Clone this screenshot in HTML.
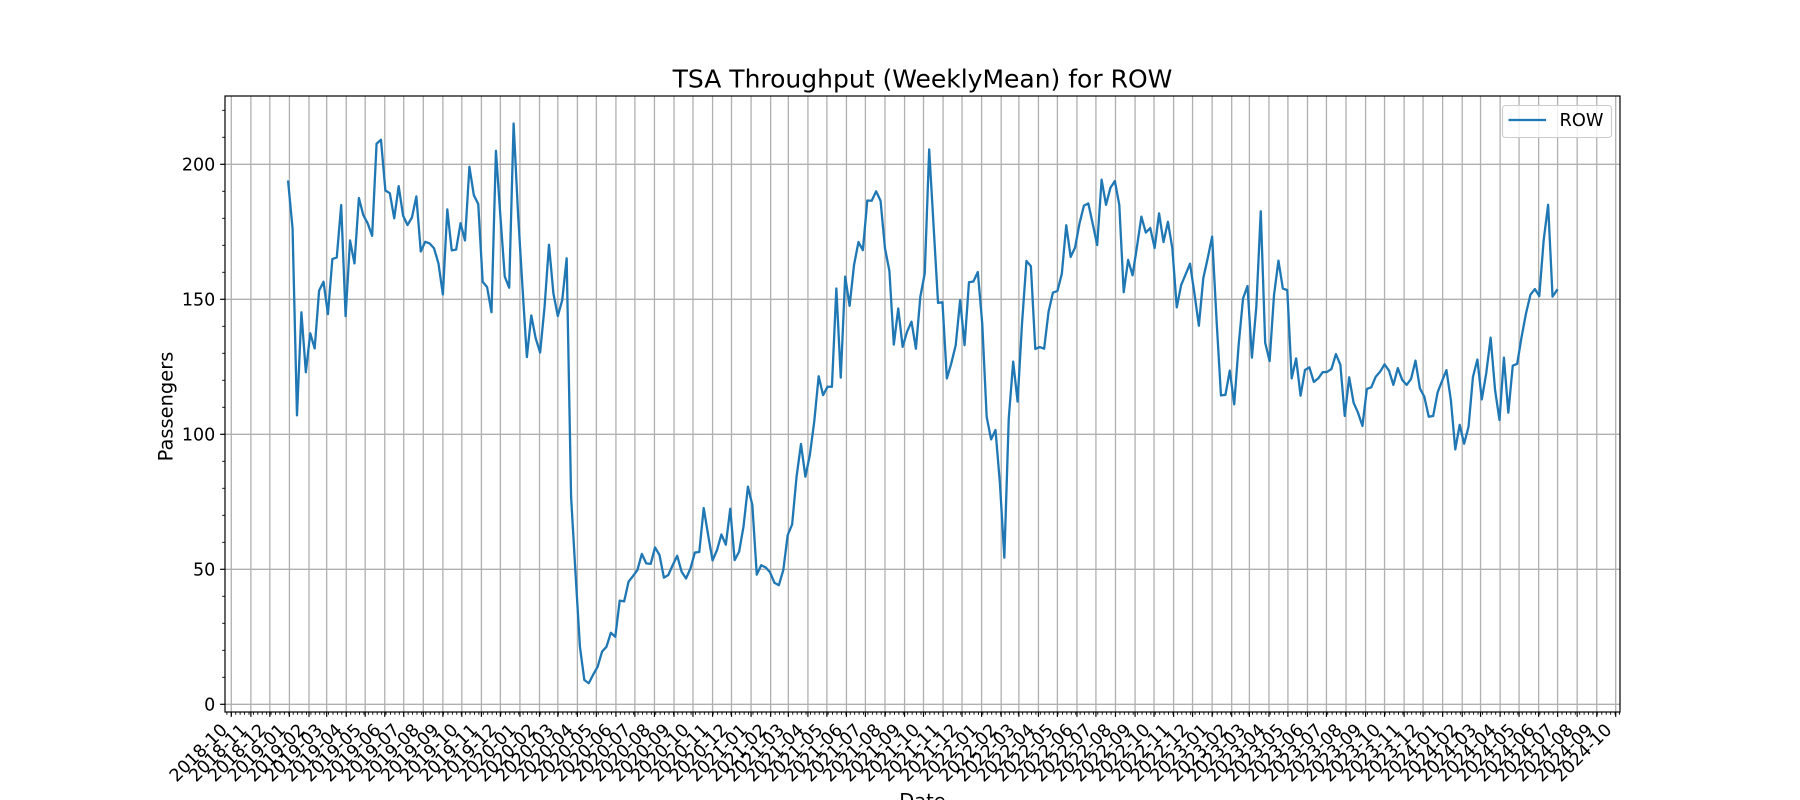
<!DOCTYPE html>
<html lang="en">
<head>
<meta charset="utf-8">
<title>TSA Throughput (WeeklyMean) for ROW</title>
<style>
html,body{margin:0;padding:0;background:#fff;width:1800px;height:800px;overflow:hidden}
svg{display:block}
text{font-family:"DejaVu Sans","Liberation Sans",sans-serif;fill:#000}
</style>
</head>
<body>
<svg id="chart" xmlns="http://www.w3.org/2000/svg" width="1800" height="800" viewBox="0 0 1800 800">
  <rect x="0" y="0" width="1800" height="800" fill="#fff"/>
  <rect x="225" y="96" width="1395" height="616" fill="#fff"/>
  <g id="grid"></g>
  <path id="series" fill="none" stroke="#1f77b4" stroke-width="2.3" stroke-linejoin="round" stroke-linecap="square"/>
  <g id="ticks"></g>
  <g id="ylabels"></g>
  <g id="xlabels"></g>
  <rect x="225" y="96" width="1395" height="616" fill="none" stroke="#000" stroke-width="1.2"/>
  <text x="922.5" y="87.7" text-anchor="middle" font-size="25">TSA Throughput (WeeklyMean) for ROW</text>
  <text transform="translate(172.7,406.5) rotate(-90)" text-anchor="middle" font-size="19.44">Passengers</text>
  <text x="922.5" y="807.5" text-anchor="middle" font-size="19.44">Date</text>
  <g>
    <rect x="1502.5" y="105.5" width="109" height="32" rx="3" ry="3" fill="#fff" fill-opacity="0.8" stroke="#ccc" stroke-width="1.11"/>
    <line x1="1508.5" y1="120" x2="1546" y2="120" stroke="#1f77b4" stroke-width="2.3"/>
    <text x="1559.5" y="126.2" font-size="17.8">ROW</text>
  </g>
</svg>
<script>
// ---- data ----
const firstWeek = "2018-12-30";
const seriesName = "ROW";
const rowValues = [
193.6,176.3,107,145.2,123,137.4,131.8,153.2,156.5,144.5,164.9,165.5,184.9,143.8,171.8,163.3,187.5,181.2,178.1,173.5,
207.6,209.1,190.3,189.3,180,191.9,181,177.5,180.3,188.1,167.7,171.3,170.7,168.9,163.3,151.8,183.3,168.1,168.4,178.2,
171.8,199.1,188.6,185.3,156.5,154.5,145.2,205,181,158.4,154.3,215.1,181.8,154.7,128.6,144,135.5,130.3,147.2,170.2,
152.2,143.8,149.7,165.2,76.9,48.5,21.3,9,7.8,11,13.9,19.5,21.3,26.5,25,38.4,38.1,45.4,47.5,49.7,
55.7,52.2,52,58.1,55.3,46.9,47.9,51.6,55,49.1,46.6,50.3,56.2,56.4,72.7,62.7,53.3,57.1,62.9,59.1,
72.4,53.4,56.5,65.8,80.6,73.8,48,51.5,50.7,48.9,45,44.1,49.7,62.7,66.6,84.3,96.4,84.3,92.3,104.7,
121.5,114.5,117.6,117.6,154,121,158.4,147.6,162.7,171.2,168.2,186.6,186.5,190,186.5,168.9,160.5,133.2,146.6,132.4,
138,141.7,131.7,151,159.6,205.5,177,148.7,148.9,120.7,126.3,133,149.7,133,156.3,156.6,160.1,141,106.5,98.1,
101.6,81.8,54.3,105.9,126.9,112.1,141,164.2,162.3,131.6,132.3,131.7,145.4,152.5,153.1,159.4,177.4,165.7,169.2,178.1,
184.7,185.5,177.9,170.1,194.3,185,191.3,193.8,185,152.6,164.6,158.9,169.5,180.6,174.7,176.4,169,181.8,171.2,178.7,
168.9,147,155.3,159.2,163.2,152.2,140.2,157.8,165.2,173.2,142.3,114.4,114.6,123.6,111.1,133.1,150.4,154.9,128.4,147.3,
182.6,133.9,127.1,151.6,164.3,154,153.4,120.7,128.1,114.3,123.8,124.8,119.4,120.7,123,123.1,124.2,129.7,125.8,106.8,
121.1,111.7,108,103.1,116.8,117.4,121.3,123.2,125.9,123.6,118.3,124.5,120.1,118.3,120.5,127.3,117,113.9,106.5,106.8,
115.5,119.7,123.8,112.7,94.4,103.5,96.5,102.8,121.3,127.7,112.9,122.6,135.8,116.4,105.3,128.4,108,125.4,126.1,136.1,
144.8,151.7,153.8,151.2,172,185,151,153.4
];
const xTickLabels = [
"2018-10","2018-11","2018-12",
"2019-01","2019-02","2019-03","2019-04","2019-05","2019-06","2019-07","2019-08","2019-09","2019-10","2019-11","2019-12",
"2020-01","2020-02","2020-03","2020-04","2020-05","2020-06","2020-07","2020-08","2020-09","2020-10","2020-11","2020-12",
"2021-01","2021-02","2021-03","2021-04","2021-05","2021-06","2021-07","2021-08","2021-09","2021-10","2021-11","2021-12",
"2022-01","2022-02","2022-03","2022-04","2022-05","2022-06","2022-07","2022-08","2022-09","2022-10","2022-11","2022-12",
"2023-01","2023-02","2023-03","2023-04","2023-05","2023-06","2023-07","2023-08","2023-09","2023-10","2023-11","2023-12",
"2024-01","2024-02","2024-03","2024-04","2024-05","2024-06","2024-07","2024-08","2024-09","2024-10"
];
const yTickLabels = [0,50,100,150,200];
const yMinorTicks = [10,20,30,40,60,70,80,90,110,120,130,140,160,170,180,190,210,220];

// ---- axis functions ----
const DAY = 86400000;
const originMs = Date.UTC(2018,9,1);
const PX_PER_DAY = (1615.7-231.3)/2192;
function msOf(s){const p=s.split("-").map(Number);return Date.UTC(p[0],p[1]-1,p[2]||1);}
function xScale(ms){return 231.3+(ms-originMs)/DAY*PX_PER_DAY;}
function yScale(v){return 704.3-2.7*v;}
const NS="http://www.w3.org/2000/svg";
function mk(tag,parent,attrs){
  const el=document.createElementNS(NS,tag);
  for(const k in attrs){el.setAttribute(k,attrs[k]);}
  parent.appendChild(el);
  return el;
}
const gGrid=document.getElementById("grid");
const gTicks=document.getElementById("ticks");
const gY=document.getElementById("ylabels");
const gX=document.getElementById("xlabels");

// gridlines, major ticks, labels - x
xTickLabels.forEach(function(lab){
  const x=xScale(msOf(lab));
  const g=mk("line",gGrid,{x1:x,x2:x,y1:96,y2:712,stroke:"#b0b0b0","stroke-width":1.3});
  
  
  const t=mk("line",gTicks,{x1:x,x2:x,y1:712,y2:716.86,stroke:"#000","stroke-width":1.2});
  
  
  const tx=mk("text",gX,{transform:"translate("+(x-3)+",731) rotate(-45)","text-anchor":"end","font-size":17.5});
  tx.textContent=lab;
  
  
});
// weekly minor ticks on Mondays
for(let ms=Date.UTC(2018,8,24);xScale(ms)<=1620;ms+=7*DAY){
  const x=xScale(ms);
  const t=mk("line",gTicks,{x1:x,x2:x,y1:712,y2:714.78,stroke:"#000","stroke-width":0.9});
  
  
}
// y axis
yTickLabels.forEach(function(v){
  const y=yScale(v);
  const g=mk("line",gGrid,{x1:225,x2:1620,y1:y,y2:y,stroke:"#b0b0b0","stroke-width":1.3});
  
  
  const t=mk("line",gTicks,{x1:220.14,x2:225,y1:y,y2:y,stroke:"#000","stroke-width":1.2});
  
  
  const tx=mk("text",gY,{x:215.3,y:y+6.4,"text-anchor":"end","font-size":17.5});
  tx.textContent=String(v);
  
  
});
yMinorTicks.forEach(function(v){
  const y=yScale(v);
  const t=mk("line",gTicks,{x1:222.22,x2:225,y1:y,y2:y,stroke:"#000","stroke-width":0.9});
  
  
});
// series
const startMs=msOf(firstWeek);
document.getElementById("series").setAttribute("d",rowValues.map(function(v,i){
  return (i?"L":"M")+xScale(startMs+i*7*DAY).toFixed(2)+" "+yScale(v).toFixed(2);
}).join(" "));
</script>
</body>
</html>
